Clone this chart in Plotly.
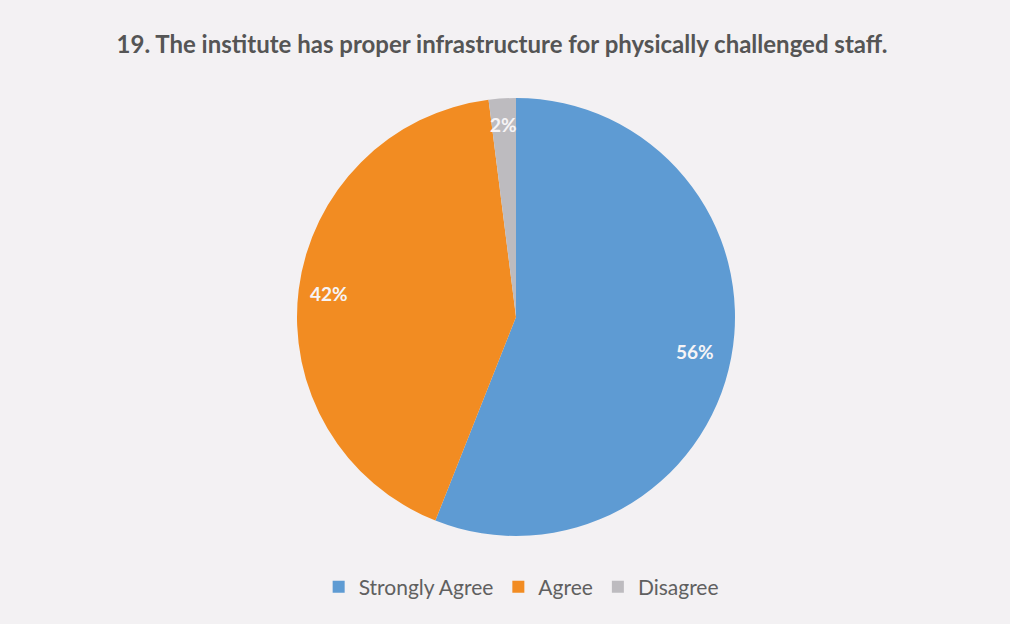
import math
import plotly.graph_objects as go

categories = ["Strongly Agree", "Agree", "Disagree"]
values = [56, 42, 2]
colors = ["#5e9bd3", "#f28c22", "#bdbbbf"]

W, H = 1010, 624
cx, cy, r = 516, 317, 219  # pie center / radius in pixels
dom_x = [(cx - r) / W, (cx + r) / W]
dom_y = [(H - cy - r) / H, (H - cy + r) / H]

fig = go.Figure(go.Pie(
    labels=categories, values=values, sort=False, direction="clockwise",
    rotation=0, marker=dict(colors=colors, line=dict(width=0)),
    textinfo="none", hoverinfo="label+percent",
    domain=dict(x=dom_x, y=dom_y), showlegend=True,
))

# percentage labels positioned at slice mid-angles (Excel style)
total = sum(values)
cum = 0
label_r = [0.83, 0.86, 0.88]
for v, lr in zip(values, label_r):
    mid = (cum + v / 2) / total * 2 * math.pi
    cum += v
    px = cx + lr * r * math.sin(mid)
    py = cy - lr * r * math.cos(mid)
    fig.add_annotation(
        x=px / W, y=1 - py / H, xref="paper", yref="paper",
        xanchor="center", yanchor="middle",
        text=f"<b>{round(v / total * 100)}%</b>", showarrow=False,
        font=dict(family="Lato, Open Sans, sans-serif", size=19, color="#f6f4f6"),
    )

fig.update_layout(
    width=W, height=H,
    margin=dict(l=0, r=0, t=0, b=0),
    paper_bgcolor="#f3f1f3", plot_bgcolor="#f3f1f3",
    title=dict(
        text="<b>19. The institute has proper infrastructure for physically challenged staff.</b>",
        x=502 / W, xanchor="center", y=1 - 45 / H, yanchor="middle",
        font=dict(family="Lato, Open Sans, sans-serif", size=24, color="#555555"),
    ),
    legend=dict(
        orientation="h", x=0.516, xanchor="center", y=1 - 587 / H, yanchor="middle",
        font=dict(family="Lato, Open Sans, sans-serif", size=21, color="#606060"),
        itemwidth=30, bgcolor="rgba(0,0,0,0)",
    ),
)

fig.write_html(
    "out.html",
    config={"displayModeBar": False},
    post_script="document.body.style.margin='0';document.body.style.overflow='hidden';",
)
